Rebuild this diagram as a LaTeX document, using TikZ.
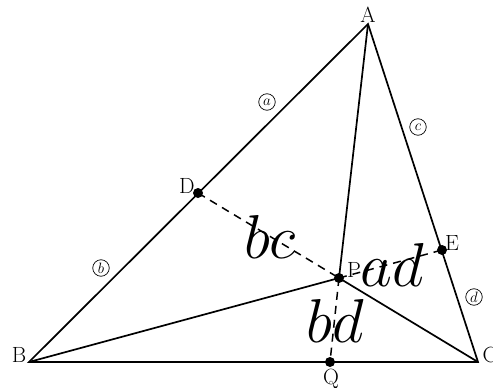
\RequirePackage{fix-cm}
\documentclass[tikz,border=0pt]{standalone}
\begin{document}
\begin{tikzpicture}[x=1pt,y=-1pt,
  seg/.style={line width=1.7pt},
  dsh/.style={line width=1.5pt,dash pattern=on 8pt off 6pt},
  dot/.style={circle,fill=black,inner sep=0pt,minimum size=10pt},
  lbl/.style={inner sep=0pt,font=\fontsize{22}{24}\selectfont},
  circ/.style={circle,draw,line width=0.7pt,inner sep=0pt,minimum size=16.5pt,font=\fontsize{15}{16}\selectfont},
  big/.style={inner sep=0pt,font=\fontsize{62}{66}\selectfont}]
\useasboundingbox (0,0) rectangle (493,388);
\coordinate (A) at (368,24);
\coordinate (B) at (29,362);
\coordinate (C) at (478,362);
\coordinate (D) at (198,193);
\coordinate (E) at (442,250);
\coordinate (P) at (339,278);
\coordinate (Q) at (330,362);
\draw[seg,line join=miter] (A) -- (B) -- (C) -- cycle;
\draw[seg] (A) -- (P);
\draw[seg] (B) -- (P);
\draw[seg] (P) -- (C);
\draw[dsh] (D) -- (P);
\draw[dsh] (P) -- (E);
\draw[dsh] (P) -- (Q);
\node[dot] (d1) at (D) {};
\node[dot] (d2) at (E) {};
\node[dot] (d3) at (P) {};
\node[dot] (d4) at (Q) {};
\node[lbl] (lA) at (368,15) {A};
\node[lbl] (lB) at (19,355) {B};
\node[lbl] (lC) at (490,355) {C};
\node[lbl] (lD) at (187,186) {D};
\node[lbl] (lE) at (452,243) {E};
\node[lbl] (lP) at (354,270) {P};
\node[lbl] (lQ) at (331,379) {Q};
\node[circ] (ca) at (267,102) {$a$};
\node[circ] (cc) at (418,127) {$c$};
\node[circ] (cb) at (101,268) {$b$};
\node[circ] (cd) at (474,297) {$d$};
\node[big] (bc) at (270,237) {$bc$};
\node[big] (ad) at (392,265) {$ad$};
\node[big] (bd) at (335,321) {$bd$};
\end{tikzpicture}
\end{document}
